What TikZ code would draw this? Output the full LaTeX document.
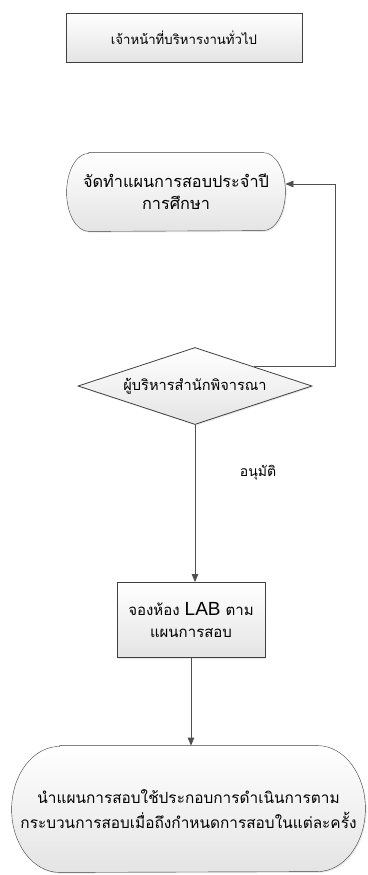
\documentclass[tikz,border=0pt]{standalone}
\usepackage{fontspec}
\setmainfont[Script=Thai]{Loma}
\newfontfamily\labfont{Liberation Sans}
\usepackage{tikz}
\usetikzlibrary{arrows.meta,positioning,shapes,calc,shadows,backgrounds}
\definecolor{lineg}{HTML}{404040}
\definecolor{fillg}{HTML}{E4E4E4}
\definecolor{arrowg}{HTML}{505050}
% outline of a terminal node: name, end x radius, end y radius
\newcommand{\termshape}[3]{%
\draw[draw=lineg,top color=white,bottom color=fillg,drop shadow={opacity=.18,shadow xshift=1.2pt,shadow yshift=-1.2pt}]
 ($(#1.north west)+(#2,0)$) -- ($(#1.north east)+(-#2,0)$)
 arc[start angle=90,end angle=-90,x radius=#2pt,y radius=#3pt]
 -- ($(#1.south west)+(#2,0)$)
 arc[start angle=270,end angle=90,x radius=#2pt,y radius=#3pt] -- cycle;}

\begin{document}
\begin{tikzpicture}[x=1pt,y=-1pt,line width=0.8pt,
box node/.style={rectangle,draw=lineg,top color=white,bottom color=fillg,drop shadow={opacity=.18,shadow xshift=1.2pt,shadow yshift=-1.2pt},inner sep=0pt,align=center,font=\fontsize{15}{22}\selectfont},
term node/.style={rectangle,inner sep=0pt,align=center,font=\fontsize{15.4}{25}\selectfont},
check node/.style={diamond,aspect=3.04,draw=lineg,top color=white,bottom color=fillg,drop shadow={opacity=.18,shadow xshift=1.2pt,shadow yshift=-1.2pt},inner sep=0pt,font=\fontsize{14.6}{18}\selectfont},
flow/.style={draw=arrowg,-{Triangle[length=8pt,width=6.5pt]}}]
\useasboundingbox (0,0) rectangle (367,875);
\begin{scope}
\node[box node,minimum width=236pt,minimum height=49pt,font=\fontsize{13.2}{16}\selectfont] (staff) at (184,37.5) {เจ้าหน้าที่บริหารงานทั่วไป};
\node[term node,minimum width=218pt,minimum height=78pt,font=\fontsize{16.3}{22}\selectfont] (plan) at (176,192) {จัดทำแผนการสอบประจำปี\\การศึกษา};
\node[check node,minimum width=234pt,minimum height=77pt] (review) at (195,386) {ผู้บริหารสำนักพิจารณา};
\node[font=\fontsize{14}{17}\selectfont] (ok) at (258,473) {อนุมัติ};
\node[box node,minimum width=148pt,minimum height=75pt] (book) at (191,620) {จองห้อง {\labfont\fontsize{19}{20}\selectfont LAB} ตาม\\แผนการสอบ};
\node[term node,minimum width=353pt,minimum height=126pt] (exam) at (188.5,809) {นำแผนการสอบใช้ประกอบการดำเนินการตาม\\กระบวนการสอบเมื่อถึงกำหนดการสอบในแต่ละครั้ง};
\coordinate (turn) at (335,184);
\end{scope}
\begin{scope}[on background layer]
\termshape{plan}{22}{39}
\termshape{exam}{48}{63}
\end{scope}
\begin{scope}
\draw[flow] (review.north east) -| (turn) -- (plan.east |- turn);
\draw[flow] (review.south) -- (review.south |- book.north);
\draw[flow] (book.south) -- (book.south |- exam.north);
\end{scope}
\end{tikzpicture}
\end{document}
